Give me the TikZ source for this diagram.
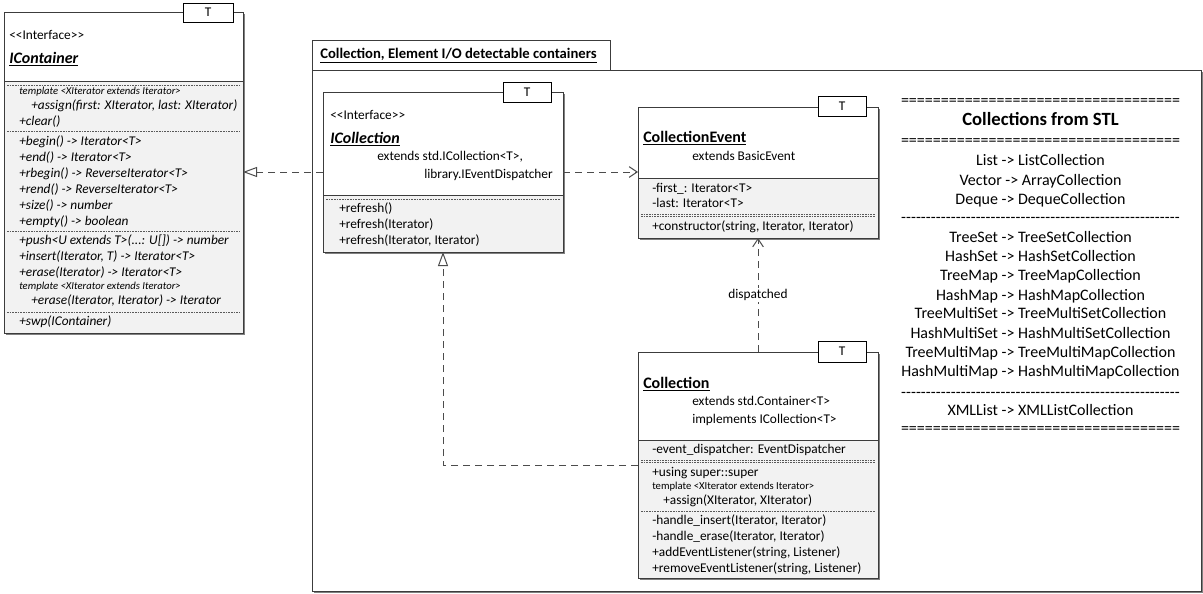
\documentclass[tikz,border=0pt]{standalone}
\usepackage{fontspec}
\setmainfont{Carlito}
\usetikzlibrary{arrows.meta}
\definecolor{bodygray}{RGB}{242,242,242}
\definecolor{linegray}{RGB}{60,60,60}
\definecolor{shadowgray}{RGB}{128,128,128}
\tikzset{
 mytxt/.style={anchor=west, inner sep=0pt, font=\fontsize{10}{11}\selectfont, text height=7pt, text depth=2pt},
 myit/.style={mytxt, font=\fontsize{10}{11}\selectfont\itshape},
 mytpl/.style={mytxt, font=\fontsize{8}{9}\selectfont, text height=5.6pt, text depth=1.6pt},
 mytplit/.style={mytpl, font=\fontsize{8}{9}\selectfont\itshape},
 myname/.style={mytxt, font=\fontsize{12}{14}\selectfont\bfseries, text height=8.5pt, text depth=2.5pt},
 myframe/.style={draw=linegray, line width=0.75pt, inner sep=0pt, outer sep=0pt},
 mysep/.style={linegray, line width=0.75pt},
 mydsep/.style={black!65, line width=0.6pt, dash pattern=on 1.2pt off 0.8pt},
 myconn/.style={black!70, line width=0.75pt, dash pattern=on 5.25pt off 3.75pt},
 myreal/.style={myconn, -{Triangle[open, length=10.5pt, width=7.5pt]}},
 mydep/.style={myconn, -{Straight Barb[length=6pt, width=8pt]}},
 mytbox/.style={draw=black, fill=white, line width=0.75pt, inner sep=0pt, font=\fontsize{10}{11}\selectfont},
 mypanel/.style={anchor=center, inner sep=0pt, font=\fontsize{12}{13}\selectfont, text height=8.4pt, text depth=2.4pt},
}
\newcommand\umlbox[6]{%
 \fill[shadowgray] (#2+2,#3+2) rectangle (#4+2,#5+2);
 \fill[bodygray] (#2,#3) rectangle (#4,#5);
 \fill[white] (#2,#3) rectangle (#4,#6);
 \draw[mysep] (#2,#6) -- (#4,#6);
 \pgfmathsetmacro\bw{(#4-#2)*0.75}\pgfmathsetmacro\bh{(#5-#3)*0.75}
 \node[myframe, minimum width=\bw pt, minimum height=\bh pt] (#1) at ({(#2+#4)/2},{(#3+#5)/2}) {};
}
\newcommand\umltpl[5]{%
 \pgfmathsetmacro\bw{(#4-#2)*0.75}\pgfmathsetmacro\bh{(#5-#3)*0.75}
 \node[mytbox, minimum width=\bw pt, minimum height=\bh pt] (#1) at ({(#2+#4)/2},{(#3+#5)/2}) {T};
}
\newcommand\dsep[3]{\draw[mydsep] (#1,#3) -- (#2,#3);}
\newcommand\eqline{\hbox to 209.25pt{\xleaders\hbox{=}\hfill}}
\newcommand\dashline{\hbox to 209.25pt{\xleaders\hbox{-}\hfill}}
\begin{document}
\begin{tikzpicture}[x=0.75pt,y=-0.75pt]
\useasboundingbox (0,0) rectangle (1203,593);
% package
\fill[shadowgray] (314,72) rectangle (1203,593);
\fill[white] (312,70) rectangle (1201,591);
\fill[white] (312,40) rectangle (610,70);
\draw[mysep] (312,40) rectangle (610,70);
\pgfmathsetmacro\pw{889*0.75}\pgfmathsetmacro\ph{521*0.75}
\node[myframe, minimum width=\pw pt, minimum height=\ph pt] (pkg) at (756.5,330.5) {};
\node[mytxt, font=\fontsize{11}{12}\selectfont\bfseries, text height=7.7pt, text depth=2.2pt] (pkgname) at (320,55) {\underline{Collection, Element I/O detectable containers}};

% IContainer
\umlbox{icont}{4}{12}{243}{333}{81}
\umltpl{icontT}{183}{3}{233}{22}
\node[mytxt] (ic0) at (9,36) {<{}<Interface>{}>};
\node[myname, font=\fontsize{12}{14}\selectfont\bfseries\itshape] (icn) at (9,59) {\underline{IContainer}};
\dsep{7}{240}{85}
\node[mytplit] (ic1) at (19,92) {template <XIterator extends Iterator>};
\node[myit] (ic2) at (31,106) {+assign(first: XIterator, last: XIterator)};
\node[myit] (ic3) at (19,122) {+clear()};
\dsep{7}{240}{131}
\node[myit] (ic4) at (19,142) {+begin() -> Iterator<T>};
\node[myit] (ic5) at (19,158) {+end() -> Iterator<T>};
\node[myit] (ic6) at (19,174) {+rbegin() -> ReverseIterator<T>};
\node[myit] (ic7) at (19,190) {+rend() -> ReverseIterator<T>};
\node[myit] (ic8) at (19,206) {+size() -> number};
\node[myit] (ic9) at (19,222) {+empty() -> boolean};
\dsep{7}{240}{231}
\node[myit] (ic10) at (19,241) {+push<U extends T>(...: U[]) -> number};
\node[myit] (ic11) at (19,257) {+insert(Iterator, T) -> Iterator<T>};
\node[myit] (ic12) at (19,273) {+erase(Iterator) -> Iterator<T>};
\node[mytplit] (ic13) at (19,287) {template <XIterator extends Iterator>};
\node[myit] (ic14) at (31,301) {+erase(Iterator, Iterator) -> Iterator};
\dsep{7}{240}{312}
\node[myit] (ic15) at (19,322) {+swp(IContainer)};

% ICollection
\umlbox{icoll}{323}{92}{563}{252}{195}
\umltpl{icollT}{503}{82}{551}{102}
\node[mytxt] (io0) at (330,116) {<{}<Interface>{}>};
\node[myname, font=\fontsize{12}{14}\selectfont\bfseries\itshape] (ion) at (330,139) {\underline{ICollection}};
\node[mytxt] (io1) at (377,157) {extends std.ICollection<T>,};
\node[mytxt] (io2) at (424,175) {library.IEventDispatcher};
\dsep{326}{560}{199}
\node[mytxt] (io3) at (339,209) {+refresh()};
\node[mytxt] (io4) at (339,225) {+refresh(Iterator)};
\node[mytxt] (io5) at (339,241) {+refresh(Iterator, Iterator)};

% CollectionEvent
\umlbox{cevent}{638}{107}{878}{238}{178}
\umltpl{ceventT}{818}{96}{866}{116}
\node[myname] (cen) at (643,138) {\underline{CollectionEvent}};
\node[mytxt] (ce1) at (692,157) {extends BasicEvent};
\node[mytxt] (ce2) at (652,189) {-first\_: Iterator<T>};
\node[mytxt] (ce3) at (652,204) {-last: Iterator<T>};
\dsep{641}{875}{214}
\dsep{641}{875}{216}
\node[mytxt] (ce4) at (652,227) {+constructor(string, Iterator, Iterator)};

% Collection
\umlbox{coll}{638}{352}{878}{578}{440}
\umltpl{collT}{818}{341}{866}{362}
\node[myname] (con) at (643,384) {\underline{Collection}};
\node[mytxt] (co1) at (692,402) {extends std.Container<T>};
\node[mytxt] (co2) at (692,420) {implements ICollection<T>};
\node[mytxt] (co3) at (652,450) {-event\_dispatcher: EventDispatcher};
\dsep{641}{875}{460}
\dsep{641}{875}{462}
\node[mytxt] (co4) at (652,473) {+using super::super};
\node[mytpl] (co5) at (652,487) {template <XIterator extends Iterator>};
\node[mytxt] (co6) at (663,501) {+assign(XIterator, XIterator)};
\dsep{641}{875}{511}
\node[mytxt] (co7) at (652,521) {-handle\_insert(Iterator, Iterator)};
\node[mytxt] (co8) at (652,537) {-handle\_erase(Iterator, Iterator)};
\node[mytxt] (co9) at (652,553) {+addEventListener(string, Listener)};
\node[mytxt] (co10) at (652,569) {+removeEventListener(string, Listener)};

% connectors
\draw[myreal] (icoll.west) -- (icont.east |- icoll.west);
\draw[mydep] (icoll.east) -- (cevent.west |- icoll.east);
\draw[myreal] (coll.west) -| (icoll.south);
\draw[mydep] (coll.north) -- node[fill=white, text=black, inner sep=1pt, font=\fontsize{10}{11}\selectfont] (disp) {dispatched} (cevent.south);

% right panel
\node[mypanel] (p0) at (1040.5,101) {\eqline};
\node[mypanel, font=\fontsize{14}{15}\selectfont\bfseries] (p1) at (1040.5,121) {Collections from STL};
\node[mypanel] (p2) at (1040.5,141) {\eqline};
\node[mypanel] (p3) at (1040.5,161) {List -> ListCollection};
\node[mypanel] (p4) at (1040.5,181) {Vector -> ArrayCollection};
\node[mypanel] (p5) at (1040.5,200) {Deque -> DequeCollection};
\node[mypanel] (p6) at (1040.5,218) {\dashline};
\node[mypanel] (p7) at (1040.5,238) {TreeSet -> TreeSetCollection};
\node[mypanel] (p8) at (1040.5,257) {HashSet -> HashSetCollection};
\node[mypanel] (p9) at (1040.5,276) {TreeMap -> TreeMapCollection};
\node[mypanel] (p10) at (1040.5,296) {HashMap -> HashMapCollection};
\node[mypanel] (p11) at (1040.5,314) {TreeMultiSet -> TreeMultiSetCollection};
\node[mypanel] (p12) at (1040.5,334) {HashMultiSet -> HashMultiSetCollection};
\node[mypanel] (p13) at (1040.5,353) {TreeMultiMap -> TreeMultiMapCollection};
\node[mypanel] (p14) at (1040.5,372) {HashMultiMap -> HashMultiMapCollection};
\node[mypanel] (p15) at (1040.5,393) {\dashline};
\node[mypanel] (p16) at (1040.5,411) {XMLList -> XMLListCollection};
\node[mypanel] (p17) at (1040.5,429) {\eqline};
\end{tikzpicture}
\end{document}
